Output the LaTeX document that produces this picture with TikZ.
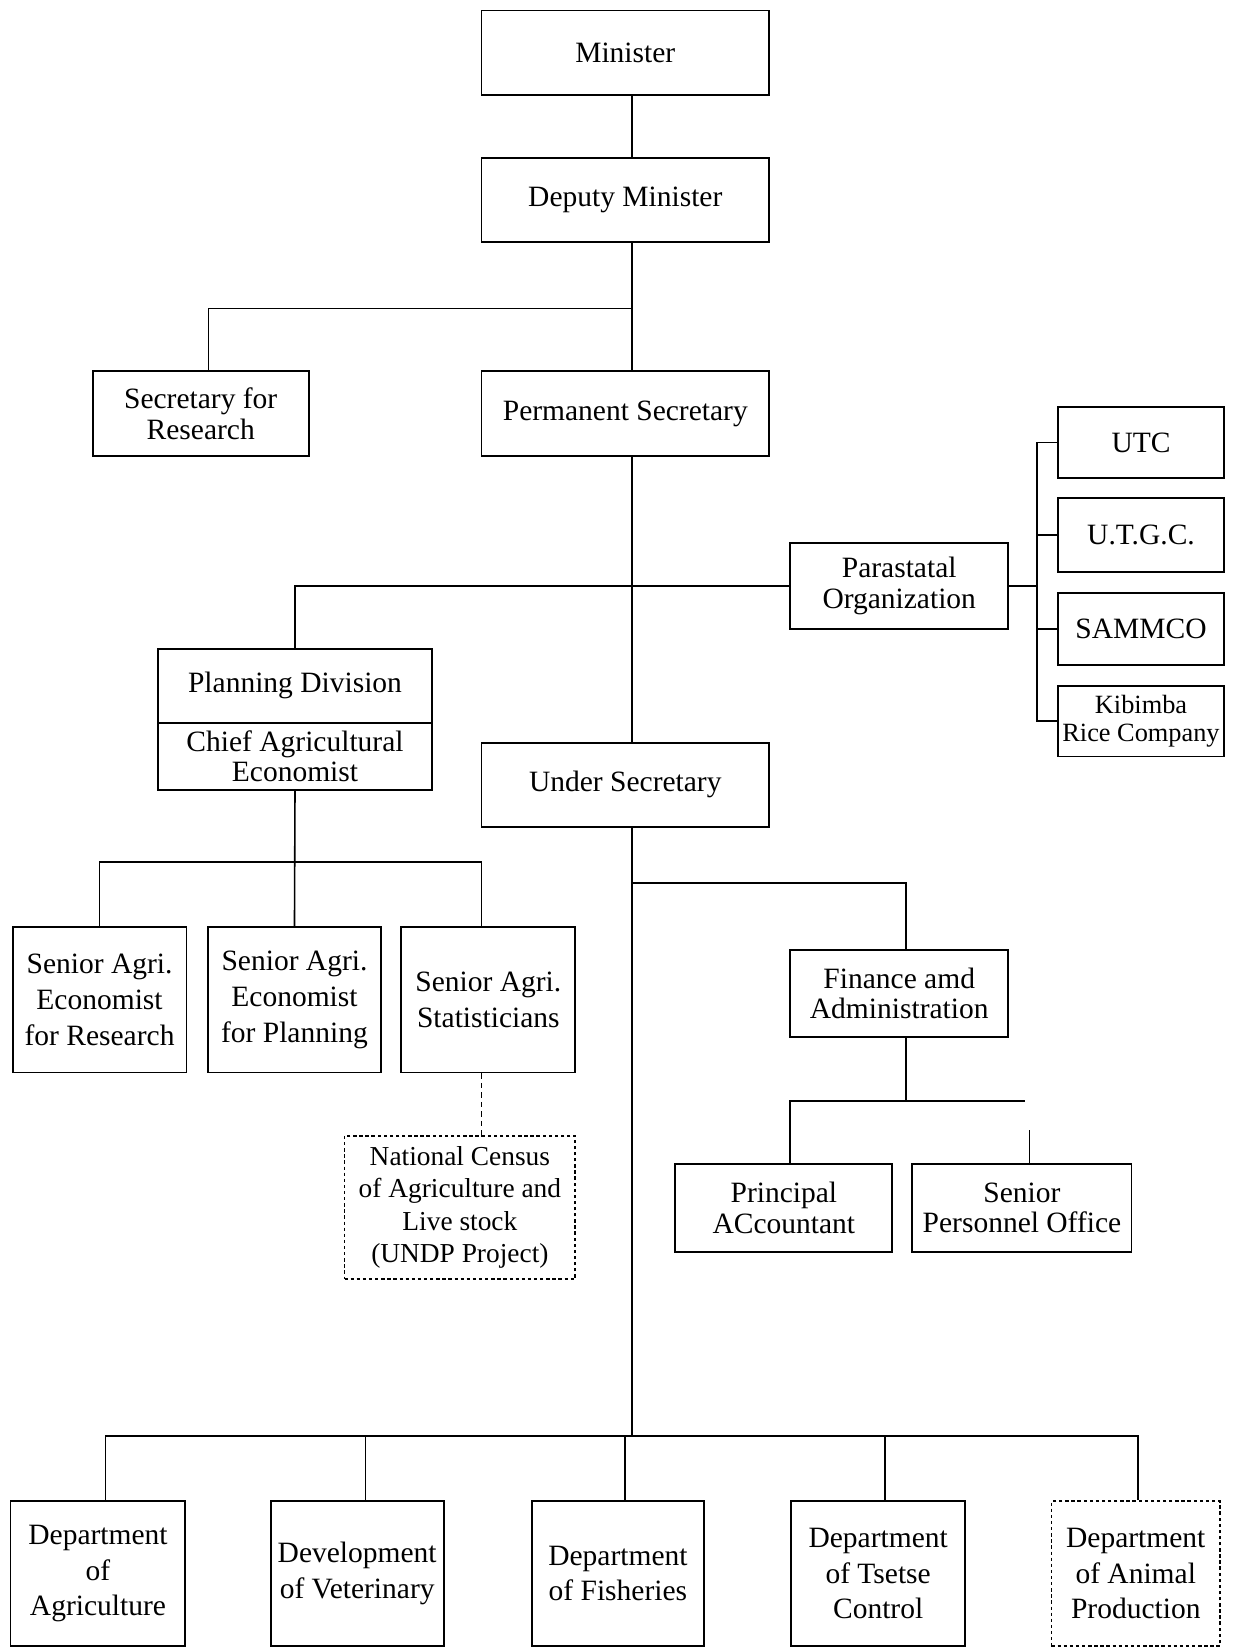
\documentclass[tikz,border=0pt]{standalone}
\usepackage{fontspec}
\setmainfont{Liberation Serif}
\begin{document}
\begin{tikzpicture}[x=0.5pt,y=-0.5pt,
  box/.style={draw, line width=0.9pt, inner sep=0pt, align=center,
    font=\fontsize{14}{14.5}\selectfont},
  tall/.style={font=\fontsize{14}{17}\selectfont},
  dotbox/.style={box, dash pattern=on 1.6pt off 1.3pt},
  link/.style={line width=0.75pt},
  dlink/.style={line width=0.75pt, dash pattern=on 2.5pt off 2pt}]
\useasboundingbox (0,0) rectangle (1174,1568);

% trunk and branch columns
\coordinate (tx) at (600,0);
\coordinate (bx) at (984,0);
\coordinate (sx) at (457,0);
\coordinate (fx) at (860,0);
\coordinate (ax) at (750,0);
\coordinate (rx) at (198,0);

% top of the hierarchy
\node[box, minimum width=136.5pt, minimum height=40pt] (min) at (593.5,50) {Minister};
\node[box, minimum width=136.5pt, minimum height=40pt] (dep) at (593.5,190) {Deputy Minister};
\node[box, minimum width=102.5pt, minimum height=40.5pt] (sec) at (190.5,392.5) {Secretary for\\Research};
\node[box, minimum width=136.5pt, minimum height=40.5pt] (perm) at (593.5,392.5) {Permanent Secretary};

% parastatals
\node[box, minimum width=103.5pt, minimum height=41pt] (para) at (853.5,556) {Parastatal\\Organization};
\node[box, minimum width=79pt, minimum height=34pt] (utc) at (1083,420) {UTC};
\node[box, minimum width=79pt, minimum height=35pt] (utgc) at (1083,508) {U.T.G.C.};
\node[box, minimum width=79pt, minimum height=34pt] (sam) at (1083,597) {SAMMCO};
\node[box, minimum width=79pt, minimum height=33.5pt, font=\fontsize{12.5}{13.5}\selectfont] (kib) at (1083,684.5) {Kibimba\\Rice Company};

% planning division
\node[box, minimum width=130pt, minimum height=35pt] (plantop) at (280,651) {Planning Division};
\node[box, minimum width=130pt, minimum height=32pt] (planbot) at (280,718) {Chief Agricultural\\Economist};
\node[box, minimum width=136.5pt, minimum height=40pt] (under) at (593.5,745) {Under Secretary};

\node[box, tall, minimum width=82.5pt, minimum height=69pt] (sae1) at (94.5,949) {Senior Agri.\\Economist\\for Research};
\node[box, tall, minimum width=82.5pt, minimum height=69pt] (sae2) at (279.5,949) {Senior Agri.\\Economist\\for Planning};
\node[box, tall, minimum width=82.5pt, minimum height=69pt] (sas) at (463.5,949) {Senior Agri.\\Statisticians};
\node[dotbox, minimum width=109.5pt, minimum height=68pt, font=\fontsize{13}{15.5}\selectfont] (census) at (436.5,1146) {National Census\\of Agriculture and\\Live stock\\(UNDP Project)};

% finance and administration
\node[box, minimum width=103.5pt, minimum height=41pt] (fin) at (853.5,943) {Finance amd\\Administration};
\node[box, minimum width=103pt, minimum height=41.5pt] (pa) at (744,1146.5) {Principal\\ACcountant};
\node[box, minimum width=104pt, minimum height=41.5pt] (spo) at (970,1146.5) {Senior\\Personnel Office};

% departments
\node[box, tall, minimum width=83pt, minimum height=68.5pt] (agr) at (93,1493.5) {Department\\of\\Agriculture};
\node[box, tall, minimum width=82pt, minimum height=68.5pt] (vet) at (339,1493.5) {Development\\of Veterinary};
\node[box, tall, minimum width=81.5pt, minimum height=68.5pt] (fish) at (586.5,1493.5) {Department\\of Fisheries};
\node[box, tall, minimum width=82.5pt, minimum height=68.5pt] (tse) at (833.5,1493.5) {Department\\of Tsetse\\Control};
\node[dotbox, tall, minimum width=80pt, minimum height=68.5pt] (anim) at (1078,1493.5) {Department\\of Animal\\Production};

% junctions
\coordinate (j1) at (600,293);
\coordinate (j2) at (280,818);
\coordinate (j3) at (600,838);
\coordinate (j5) at (860,1045);
\coordinate (hend) at (973,1045);
\coordinate (gap) at (977,1073);
\coordinate (bb) at (600,1363);

% connectors
\draw[link] (min.south -| tx) -- (dep.north -| tx);
\draw[link] (dep.south -| tx) -- (perm.north -| tx);
\draw[link] (sec.north -| rx) |- (j1);
\draw[link] (perm.south -| tx) -- (under.north -| tx);
\draw[link] (plantop.north) |- (para.west);
\draw[link] (para.east) -- (para.east -| bx);
\draw[link] (utc.west) -- (utc.west -| bx) -- (kib.west -| bx) -- (kib.west);
\draw[link] (utgc.west) -- (utgc.west -| bx);
\draw[link] (sam.west) -- (sam.west -| bx);
\draw[link] (planbot.south) -- (sae2.north);
\draw[link] (sae1.north) -- (sae1.north |- j2) -- (j2 -| sx) -- (sas.north -| sx);
\draw[dlink] (sas.south -| sx) -- (census.north -| sx);
\draw[link] (under.south -| tx) -- (bb);
\draw[link] (j3) -| (fin.north -| fx);
\draw[link] (fin.south -| fx) -- (j5);
\draw[link] (pa.north -| ax) |- (hend);
\draw[link] (gap) -- (spo.north -| gap);
\draw[link] ([xshift=3.5pt]agr.north) |- (bb) -| ([xshift=1pt]anim.north);
\draw[link] ([xshift=4pt]vet.north |- bb) -- ([xshift=4pt]vet.north);
\draw[link] ([xshift=3.25pt]fish.north |- bb) -- ([xshift=3.25pt]fish.north);
\draw[link] ([xshift=3.25pt]tse.north |- bb) -- ([xshift=3.25pt]tse.north);
\end{tikzpicture}
\end{document}
